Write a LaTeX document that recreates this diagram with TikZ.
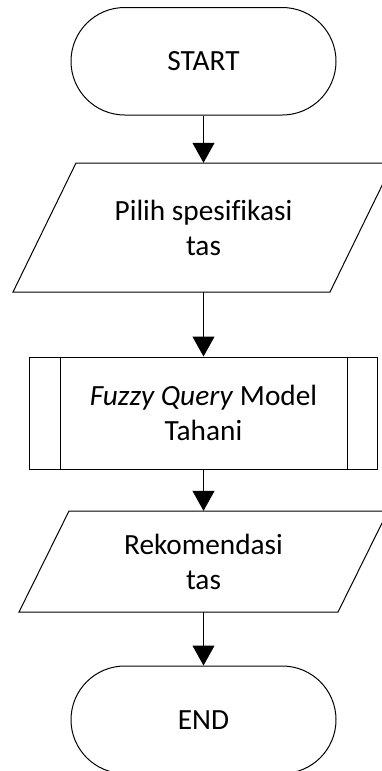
\documentclass[tikz,border=0pt]{standalone}
\usepackage{fontspec}
\setmainfont{Carlito}[Ligatures=NoCommon]
\usetikzlibrary{arrows.meta}
\begin{document}
\begin{tikzpicture}[x=1pt,y=-1pt,
  every node/.style={font=\fontsize{29.3}{35}\selectfont, text=black},
  shapeline/.style={draw=black, line width=1pt},
  flowarrow/.style={draw=black, line width=1pt, -{Triangle[length=20pt,width=22pt]}},
  textonly/.style={align=center, inner sep=0pt, minimum width=250pt},
  terminal/.style={shapeline, rectangle, rounded corners=53.75pt, minimum width=265pt, minimum height=107.5pt, inner sep=0pt},
  procbox/.style={shapeline, rectangle, minimum width=348pt, minimum height=112pt, inner sep=0pt, align=center}
]
\path[use as bounding box, clip] (0,0) rectangle (382,771);
\fill[white] (0,0) rectangle (382,771);

% START
\node[terminal] (start) at (203.5,61.25) {START};

% input 1
\node[textonly, minimum height=129pt] (in1) at (203.5,227.5) {Pilih spesifikasi\\tas};
\draw[shapeline] (76,163) -- (393,163) -- (330,292) -- (13,292) -- cycle;

% process
\node[procbox] (proc) at (203.5,413) {\textit{Fuzzy Query} Model\\Tahani};
\draw[shapeline] ([xshift=31pt]proc.north west) -- ([xshift=31pt]proc.south west);
\draw[shapeline] ([xshift=-31pt]proc.north east) -- ([xshift=-31pt]proc.south east);

% input 2
\node[textonly, minimum height=101pt] (in2) at (203.5,561.5) {Rekomendasi\\tas};
\draw[shapeline] (69,511) -- (388,511) -- (338,612) -- (19,612) -- cycle;

% END
\node[terminal] (stop) at (203.5,719.75) {END};

% connectors
\draw[flowarrow] (start.south) -- (in1.north);
\draw[flowarrow] (in1.south) -- (proc.north);
\draw[flowarrow] (proc.south) -- (in2.north);
\draw[flowarrow] (in2.south) -- (stop.north);
\end{tikzpicture}
\end{document}
